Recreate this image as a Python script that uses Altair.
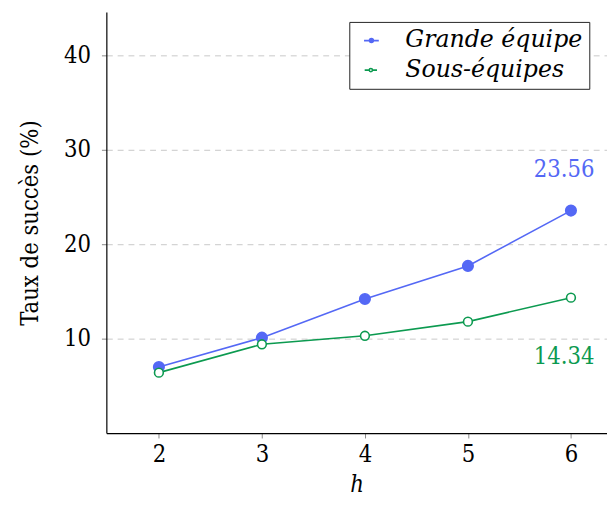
import altair as alt
import pandas as pd

h_values = [2, 3, 4, 5, 6]
grande = [7.0, 10.1, 14.2, 17.7, 23.56]
sous = [6.4, 9.4, 10.3, 11.8, 14.34]
series_names = ["Grande équipe", "Sous-équipes"]
blue = "#5468f5"
green = "#0c9a50"

rows = []
for h, g, s in zip(h_values, grande, sous):
    rows.append({"h": h, "taux": g, "serie": series_names[0]})
    rows.append({"h": h, "taux": s, "serie": series_names[1]})
df = pd.DataFrame(rows)

FONT = "DejaVu Serif Condensed, DejaVu Serif"
LFONT = "DejaVu Serif"
FS = 24

x_enc = alt.X("h:Q", scale=alt.Scale(domain=[1.49, 6.35], nice=False, zero=False),
              axis=alt.Axis(values=h_values, title="h", format="d", grid=False,
                            titleFontStyle="italic", titleFontWeight="normal",
                            labelPadding=5, titlePadding=6))
y_enc = alt.Y("taux:Q", scale=alt.Scale(domain=[0, 44.58], nice=False),
              axis=alt.Axis(values=[10, 20, 30, 40], title="Taux de succès (%)",
                            grid=True, gridDash=[6, 5], gridColor="#c8c8c8",
                            titleFontWeight="normal", labelPadding=11,
                            titlePadding=22))

color_scale = alt.Scale(domain=series_names, range=[blue, green])
fill_scale = alt.Scale(domain=series_names, range=[blue, "white"])
size_scale = alt.Scale(domain=series_names, range=[115, 80])

legend_path = ("M-0.75,0H0.28M1.02,0H2.05"
               "M0.28,0A0.37,0.37 0 1,1 1.02,0A0.37,0.37 0 1,1 0.28,0Z")


def make_legend():
    return alt.Legend(title=None, orient="none", legendX=247, legendY=10,
                      symbolType=legend_path, symbolSize=1024, symbolStrokeWidth=1.6,
                      labelFont=LFONT, labelFontSize=FS, labelFontStyle="italic",
                      labelColor="black", labelLimit=400,
                      labelOffset=26, padding=7, rowPadding=6,
                      strokeColor="#222222", fillColor="white")


lines = alt.Chart(df).mark_line(strokeWidth=1.6).encode(
    x=x_enc, y=y_enc,
    stroke=alt.Stroke("serie:N", scale=color_scale, legend=make_legend()),
    detail="serie:N",
)

points = alt.Chart(df).mark_point(strokeWidth=1.6, opacity=1, shape="circle").encode(
    x=x_enc, y=y_enc,
    stroke=alt.Stroke("serie:N", scale=color_scale),
    fill=alt.Fill("serie:N", scale=fill_scale, legend=make_legend()),
    size=alt.Size("serie:N", scale=size_scale, legend=None),
)

lab_g = pd.DataFrame({"h": [h_values[-1]], "taux": [grande[-1]], "t": [f"{grande[-1]:.2f}"]})
lab_s = pd.DataFrame({"h": [h_values[-1]], "taux": [sous[-1]], "t": [f"{sous[-1]:.2f}"]})

text_g = alt.Chart(lab_g).mark_text(align="right", dx=24, dy=-41, font=FONT, fontSize=FS,
                                    color=blue).encode(x=x_enc, y=y_enc, text="t:N")
text_s = alt.Chart(lab_s).mark_text(align="right", dx=24, dy=60, font=FONT, fontSize=FS,
                                    color=green).encode(x=x_enc, y=y_enc, text="t:N")

chart = alt.layer(lines, points, text_g, text_s).properties(
    width=509, height=428,
    autosize=alt.AutoSizeParams(type="none"),
    padding={"left": 100, "top": 0, "right": 0, "bottom": 70},
).configure_view(stroke=None).configure_axis(
    labelFont=FONT, titleFont=FONT, labelFontSize=FS, titleFontSize=FS,
    labelColor="black", titleColor="black", domainColor="black", domainWidth=1.2,
    tickColor="#888888", tickSize=5,
)

chart.save("out.html", embed_options={"renderer": "svg", "actions": False})
